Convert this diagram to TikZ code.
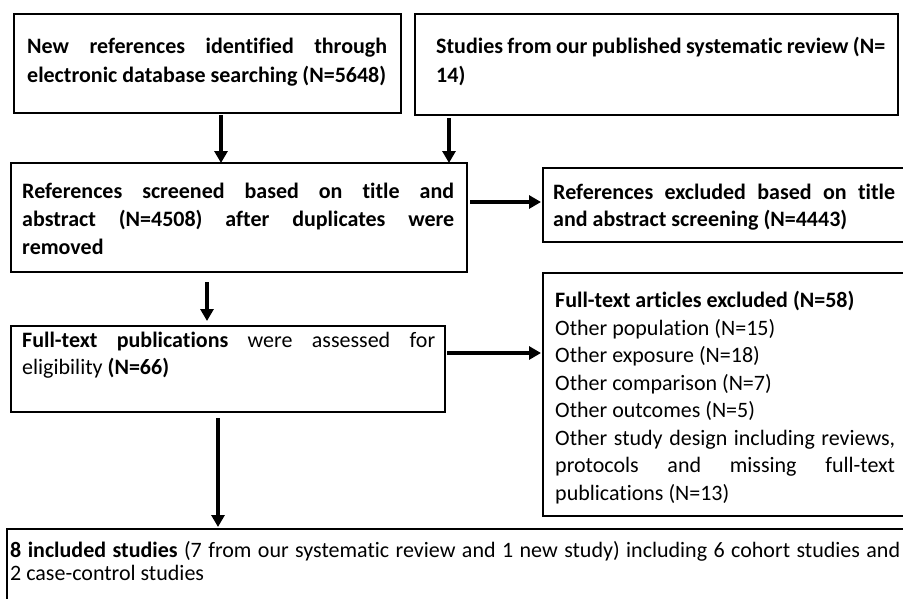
\documentclass[tikz,border=0pt]{standalone}
\usepackage{fontspec}
\setmainfont{Carlito}[RawFeature={-liga;-clig;-calt}]
\usetikzlibrary{arrows.meta}
\newcommand\hyph{\hyphenpenalty=10000 \exhyphenpenalty=10000 }
\newcommand\fsA{\fontsize{22}{29}\selectfont\hyph}
\newcommand\fsC{\fontsize{22}{28}\selectfont\hyph}
\newcommand\fsD{\fontsize{22}{27}\selectfont\hyph}
\newcommand\fsE{\fontsize{22}{27.5}\selectfont\hyph}
\newcommand\fsG{\fontsize{22}{23.5}\selectfont\hyph}
\begin{document}
\begin{tikzpicture}[x=1pt,y=-1pt,
  box/.style={draw=black, line width=1.8pt, inner sep=0pt, outer sep=0pt, anchor=north west},
  txt/.style={inner sep=0pt, anchor=north west, align=justify},
  arr/.style={line width=3.2pt, -{Triangle[length=12pt,width=13pt]}}]
\useasboundingbox (0,0) rectangle (903,598);
\clip (0,0) rectangle (903,598);
% boxes
\node[box, minimum width=387pt, minimum height=99pt] (A) at (14,14) {};
\node[box, minimum width=483pt, minimum height=101pt] (B) at (415,14) {};
\node[box, minimum width=456pt, minimum height=109pt] (C) at (11,163) {};
\node[box, minimum width=380pt, minimum height=74pt] (D) at (543,168) {};
\node[box, minimum width=434pt, minimum height=86pt] (E) at (11,326) {};
\node[box, minimum width=380pt, minimum height=243pt] (F) at (543,273) {};
\node[box, minimum width=920pt, minimum height=90pt] (G) at (7,529) {};
% texts
\node[txt, text width=360pt, font=\fsA\bfseries] (tA) at (27,33) {\strut New references identified through\linebreak electronic database searching (N=5648)};
\node[txt, text width=449pt, font=\fsA\bfseries] (tB) at (436,33) {\strut Studies from our published systematic review (N=\linebreak 14)};
\node[txt, text width=432pt, font=\fsC\bfseries] (tC) at (22,179) {\strut References screened based on title and\linebreak abstract (N=4508) after duplicates were\linebreak removed};
\node[txt, text width=342pt, font=\fsD\bfseries] (tD) at (553,180) {\strut References excluded based on title\linebreak and abstract screening (N=4443)};
\node[txt, text width=413pt, font=\fsE] (tE) at (22,328) {\strut\textbf{Full-text publications} were assessed for\linebreak eligibility \textbf{(N=66)}};
\node[txt, text width=340pt, font=\fsE] (tF) at (555,288.5) {\strut\textbf{Full-text articles excluded (N=58)}\par
Other population (N=15)\par
Other exposure (N=18)\par
Other comparison (N=7)\par
Other outcomes (N=5)\par
Other study design including reviews,\linebreak protocols and missing full-text\linebreak publications (N=13)};
\node[txt, text width=890pt, font=\fsG] (tG) at (10,540.5) {\strut\textbf{8 included studies} (7 from our systematic review and 1 new study) including 6 cohort studies and\linebreak 2 case-control studies};
% connectors
\coordinate (xA) at (221,0);
\coordinate (xB) at (449,0);
\coordinate (xC) at (207,0);
\coordinate (xE) at (218,0);
\coordinate (yD) at (0,202);
\coordinate (yF) at (0,353);
\draw[arr, shorten <=2pt] (A.south -| xA) -- (C.north -| xA);
\draw[arr, shorten <=3pt] (B.south -| xB) -- (C.north -| xB);
\draw[arr, shorten <=3pt, shorten >=2pt] (C.east |- yD) -- (D.west |- yD);
\draw[arr, shorten <=10pt, shorten >=5pt] (C.south -| xC) -- (E.north -| xC);
\draw[arr, shorten <=2pt, shorten >=2pt] (E.east |- yF) -- (F.west |- yF);
\draw[arr, shorten <=6pt, shorten >=2pt] (E.south -| xE) -- (G.north -| xE);
\end{tikzpicture}
\end{document}
